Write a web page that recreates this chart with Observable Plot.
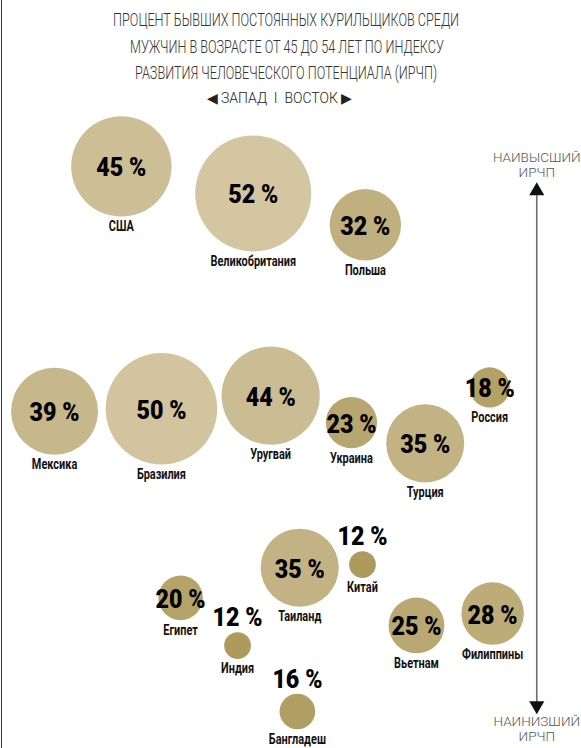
<!DOCTYPE html>
<html>
<head>
<meta charset="utf-8">
<script src="https://cdn.jsdelivr.net/npm/d3@7"></script>
<script src="https://cdn.jsdelivr.net/npm/@observablehq/plot@0.6"></script>
<style>
  html, body { margin: 0; padding: 0; background: #fff; }
  #wrap { position: relative; width: 581px; height: 748px; overflow: hidden; }
  #edge { position: absolute; left: 1px; top: 0; width: 1px; height: 748px; background: #333; }
  #title { height: 110px; box-sizing: border-box; padding-top: 7px; text-align: center; font-family: Roboto, "Liberation Sans", sans-serif; color: #333; }
  #title .t { font-size: 19px; line-height: 26.5px; font-weight: 300; padding-right: 8px; }
  #title .t span { display: inline-block; transform-origin: 50% 50%; white-space: nowrap; }
  #title .dir { font-family: Roboto, "Liberation Sans", sans-serif; font-weight: 300; font-size: 14px; color: #222; margin-top: 3px; padding-right: 22px; }
</style>
</head>
<body>
<div id="wrap">
  <div id="edge"></div>
  <div id="title">
    <div class="t"><span>ПРОЦЕНТ БЫВШИХ ПОСТОЯННЫХ КУРИЛЬЩИКОВ СРЕДИ</span></div>
    <div class="t"><span>МУЖЧИН В ВОЗРАСТЕ ОТ 45 ДО 54 ЛЕТ ПО ИНДЕКСУ</span></div>
    <div class="t"><span>РАЗВИТИЯ ЧЕЛОВЕЧЕСКОГО ПОТЕНЦИАЛА (ИРЧП)</span></div>
    <div class="dir">◀ ЗАПАД&nbsp; I &nbsp;ВОСТОК ▶</div>
  </div>
  <div id="chart"></div>
</div>
<script>
// Countries, share of former smokers (%), west→east position, HDI level (relative)
const countries = ["США", "Великобритания", "Польша", "Мексика", "Бразилия", "Уругвай", "Украина", "Турция", "Россия", "Таиланд", "Китай", "Египет", "Индия", "Бангладеш", "Вьетнам", "Филиппины"];
const percent   = [45, 52, 32, 39, 50, 44, 23, 35, 18, 35, 12, 20, 12, 16, 25, 28];
const westEast  = [20.8, 43.5, 62.8, 9.3, 27.7, 46.5, 60.4, 73.1, 84.2, 51.5, 62.3, 31.0, 40.8, 51.1, 71.6, 84.7];
const hdiLevel  = [91.1, 86.8, 81.8, 52.1, 52.5, 54.6, 50.3, 47.0, 55.9, 27.2, 27.7, 22.4, 14.8, 4.3, 18.0, 19.9];

// HDI axis annotation
const axisLabels = ["НАИВЫСШИЙ\nИРЧП", "НАИНИЗШИЙ\nИРЧП"];
const axisLabelLevel = [91.4, 1.6];
const axisArrowEnds = [87.2, 5.25];
const axisPos = 92.3;

const W = 581, H = 638;
const pxPerY = (H - 10) / 100;
const rMax = 58, vMax = 52;
const rOf = v => v / vMax * rMax;

const data = countries.map((c, i) => ({country: c, pct: percent[i], x: westEast[i], y: hdiLevel[i]}));

const boldFont = "Roboto, 'Liberation Sans', sans-serif";
const PCT_SIZE = 25, NAME_SIZE = 14, AXIS_SIZE = 13.5;

const chart = Plot.plot({
  width: W,
  height: H,
  marginTop: 0, marginBottom: 10, marginLeft: 0, marginRight: 0,
  x: {domain: [0, 100], axis: null},
  y: {domain: [0, 100], axis: null},
  r: {type: "linear", domain: [0, vMax], range: [0, rMax]},
  color: {type: "linear", domain: [12, 52], range: ["#ad9a5c", "#d3c6a1"]},
  style: {background: "#fff", overflow: "visible"},
  marks: [
    // HDI arrow
    Plot.ruleX([axisPos], {y1: axisArrowEnds[1], y2: axisArrowEnds[0], stroke: "#6f6f6f", strokeWidth: 1.6}),
    Plot.dot([{x: axisPos, y: axisArrowEnds[0]}], {x: "x", y: "y", symbol: "triangle", r: 5.6, fill: "#111", stroke: null}),
    Plot.dot([{x: axisPos, y: axisArrowEnds[1]}], {x: "x", y: "y", symbol: "triangle", r: 5.6, fill: "#111", stroke: null, rotate: 180}),
    Plot.text(axisLabels.map((t, i) => ({t, y: axisLabelLevel[i]})), {
      x: () => axisPos, y: "y", text: "t", fill: "#555", fontSize: AXIS_SIZE, lineHeight: 1.15,
      fontFamily: "Roboto, 'Liberation Sans', sans-serif", fontWeight: 300
    }),
    // Bubbles
    Plot.dot(data, {x: "x", y: "y", r: "pct", fill: d => d.pct, stroke: null}),
    // Percent labels
    Plot.text(data, {
      x: "x",
      y: d => d.pct < 17 ? d.y + (rOf(d.pct) + 14) / pxPerY : d.y - 2 / pxPerY,
      text: d => d.pct + " %",
      fontSize: PCT_SIZE, fontWeight: 900, fill: "#000", fontFamily: boldFont
    }),
    // Country labels
    Plot.text(data, {
      x: "x",
      y: d => d.y - (rOf(d.pct) + 10) / pxPerY,
      text: "country",
      fontSize: NAME_SIZE, fontWeight: "bold", fill: "#111", fontFamily: boldFont
    })
  ]
});
document.getElementById("chart").appendChild(chart);

// Condense the bold labels horizontally (the original uses a condensed typeface)
function condense(size, s) {
  chart.querySelectorAll("g").forEach(g => {
    if (+g.getAttribute("font-size") !== size) return;
    g.querySelectorAll("text").forEach(t => {
      const len = t.getComputedTextLength();
      if (len > 0) {
        t.setAttribute("textLength", (len * s).toFixed(2));
        t.setAttribute("lengthAdjust", "spacingAndGlyphs");
      }
    });
  });
}
condense(PCT_SIZE, 0.93);
condense(NAME_SIZE, 0.78);

// Condense title lines to the original width
const spans = document.querySelectorAll("#title .t span");
const w0 = spans[0].getBoundingClientRect().width;
const s = 346 / w0;
spans.forEach(sp => sp.style.transform = `scaleX(${s})`);
</script>
</body>
</html>
